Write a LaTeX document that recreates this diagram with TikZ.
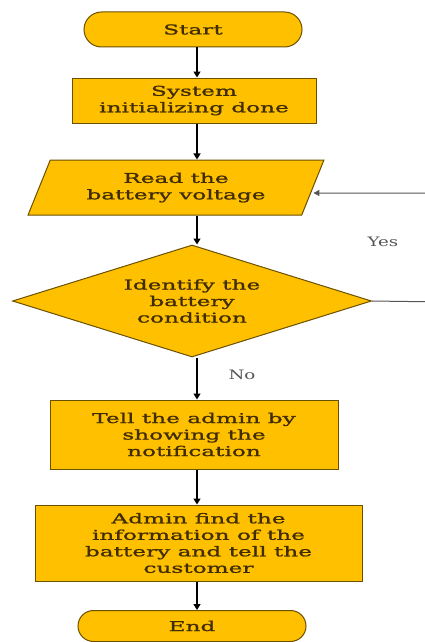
\documentclass[tikz,border=0pt]{standalone}
\usepackage{fontspec}
\newfontfamily\boxfont[FakeStretch=1.72,FakeBold=1.2]{DejaVu Serif}
\newfontfamily\labfont[FakeStretch=1.4]{DejaVu Serif}
\usepackage{tikz}
\usetikzlibrary{shapes.geometric,shapes.misc,arrows.meta,positioning}
\definecolor{boxfill}{HTML}{FFC000}
\definecolor{boxline}{HTML}{6B5000}
\definecolor{boxtext}{HTML}{3F2C00}
\definecolor{labgray}{HTML}{555555}

\tikzset{
  stepbase/.style={draw=boxline, fill=boxfill, line width=1pt, inner sep=0pt,
    text=boxtext, align=center, font=\boxfont\fontsize{13.5}{16.5}\selectfont},
  terminal/.style={stepbase, rounded rectangle},
  process/.style={stepbase, rectangle},
  inout/.style={stepbase, trapezium, trapezium left angle=62, trapezium right angle=118,
    trapezium stretches=true},
  decision/.style={stepbase, diamond, aspect=3.2},
  flow/.style={line width=1.3pt, -{Triangle[length=6pt,width=7pt]}},
  loopline/.style={labgray, line width=1pt, -{Triangle[length=6pt,width=6pt]}},
  lab/.style={text=labgray, font=\labfont\fontsize{13}{15}\selectfont}
}

\begin{document}
\begin{tikzpicture}[x=1pt,y=-1pt]
    \useasboundingbox (0,0) rectangle (425,642);

    % flowchart steps
    \node[terminal, minimum width=218pt, minimum height=35pt] (start) at (193,29.5) {Start};
    \node[process, minimum width=244pt, minimum height=45pt] (init) at (194,100.5) {System\\initializing done};
    \node[inout, minimum width=296pt, minimum height=55pt] (read) at (176,187.5) {Read the\\battery voltage};
    \node[decision, minimum width=359pt, minimum height=112pt] (check) at (192,301) {Identify the\\battery\\condition};
    \node[process, minimum width=288pt, minimum height=69pt] (notify) at (194,434.5) {Tell the admin by\\showing the\\notification};
    \node[process, minimum width=327pt, minimum height=76pt] (admin) at (198.5,543) {Admin find the\\information of the\\battery and tell the\\customer};
    \node[terminal, minimum width=228pt, minimum height=31pt] (finish) at (192,626) {End};

    % labels
    \node[lab] (yes) at (383,242) {Yes};
    \node[lab] (no) at (242,375) {No};

    % connectors
    \coordinate (spine) at (197,0);
    \coordinate (loopout) at (445,302);
    \draw[flow] (start.south -| spine) -- (init.north -| spine);
    \draw[flow] (init.south -| spine) -- (read.north -| spine);
    \draw[flow] (read.south -| spine) -- (check.north -| spine);
    \draw[flow] (check.south -| spine) -- (notify.north -| spine);
    \draw[flow] (notify.south -| spine) -- (admin.north -| spine);
    \draw[flow] (admin.south -| spine) -- (finish.north -| spine);
    \draw[loopline] (check.east) -- (loopout) |- ([yshift=-5.5pt]read.east);
\end{tikzpicture}
\end{document}
